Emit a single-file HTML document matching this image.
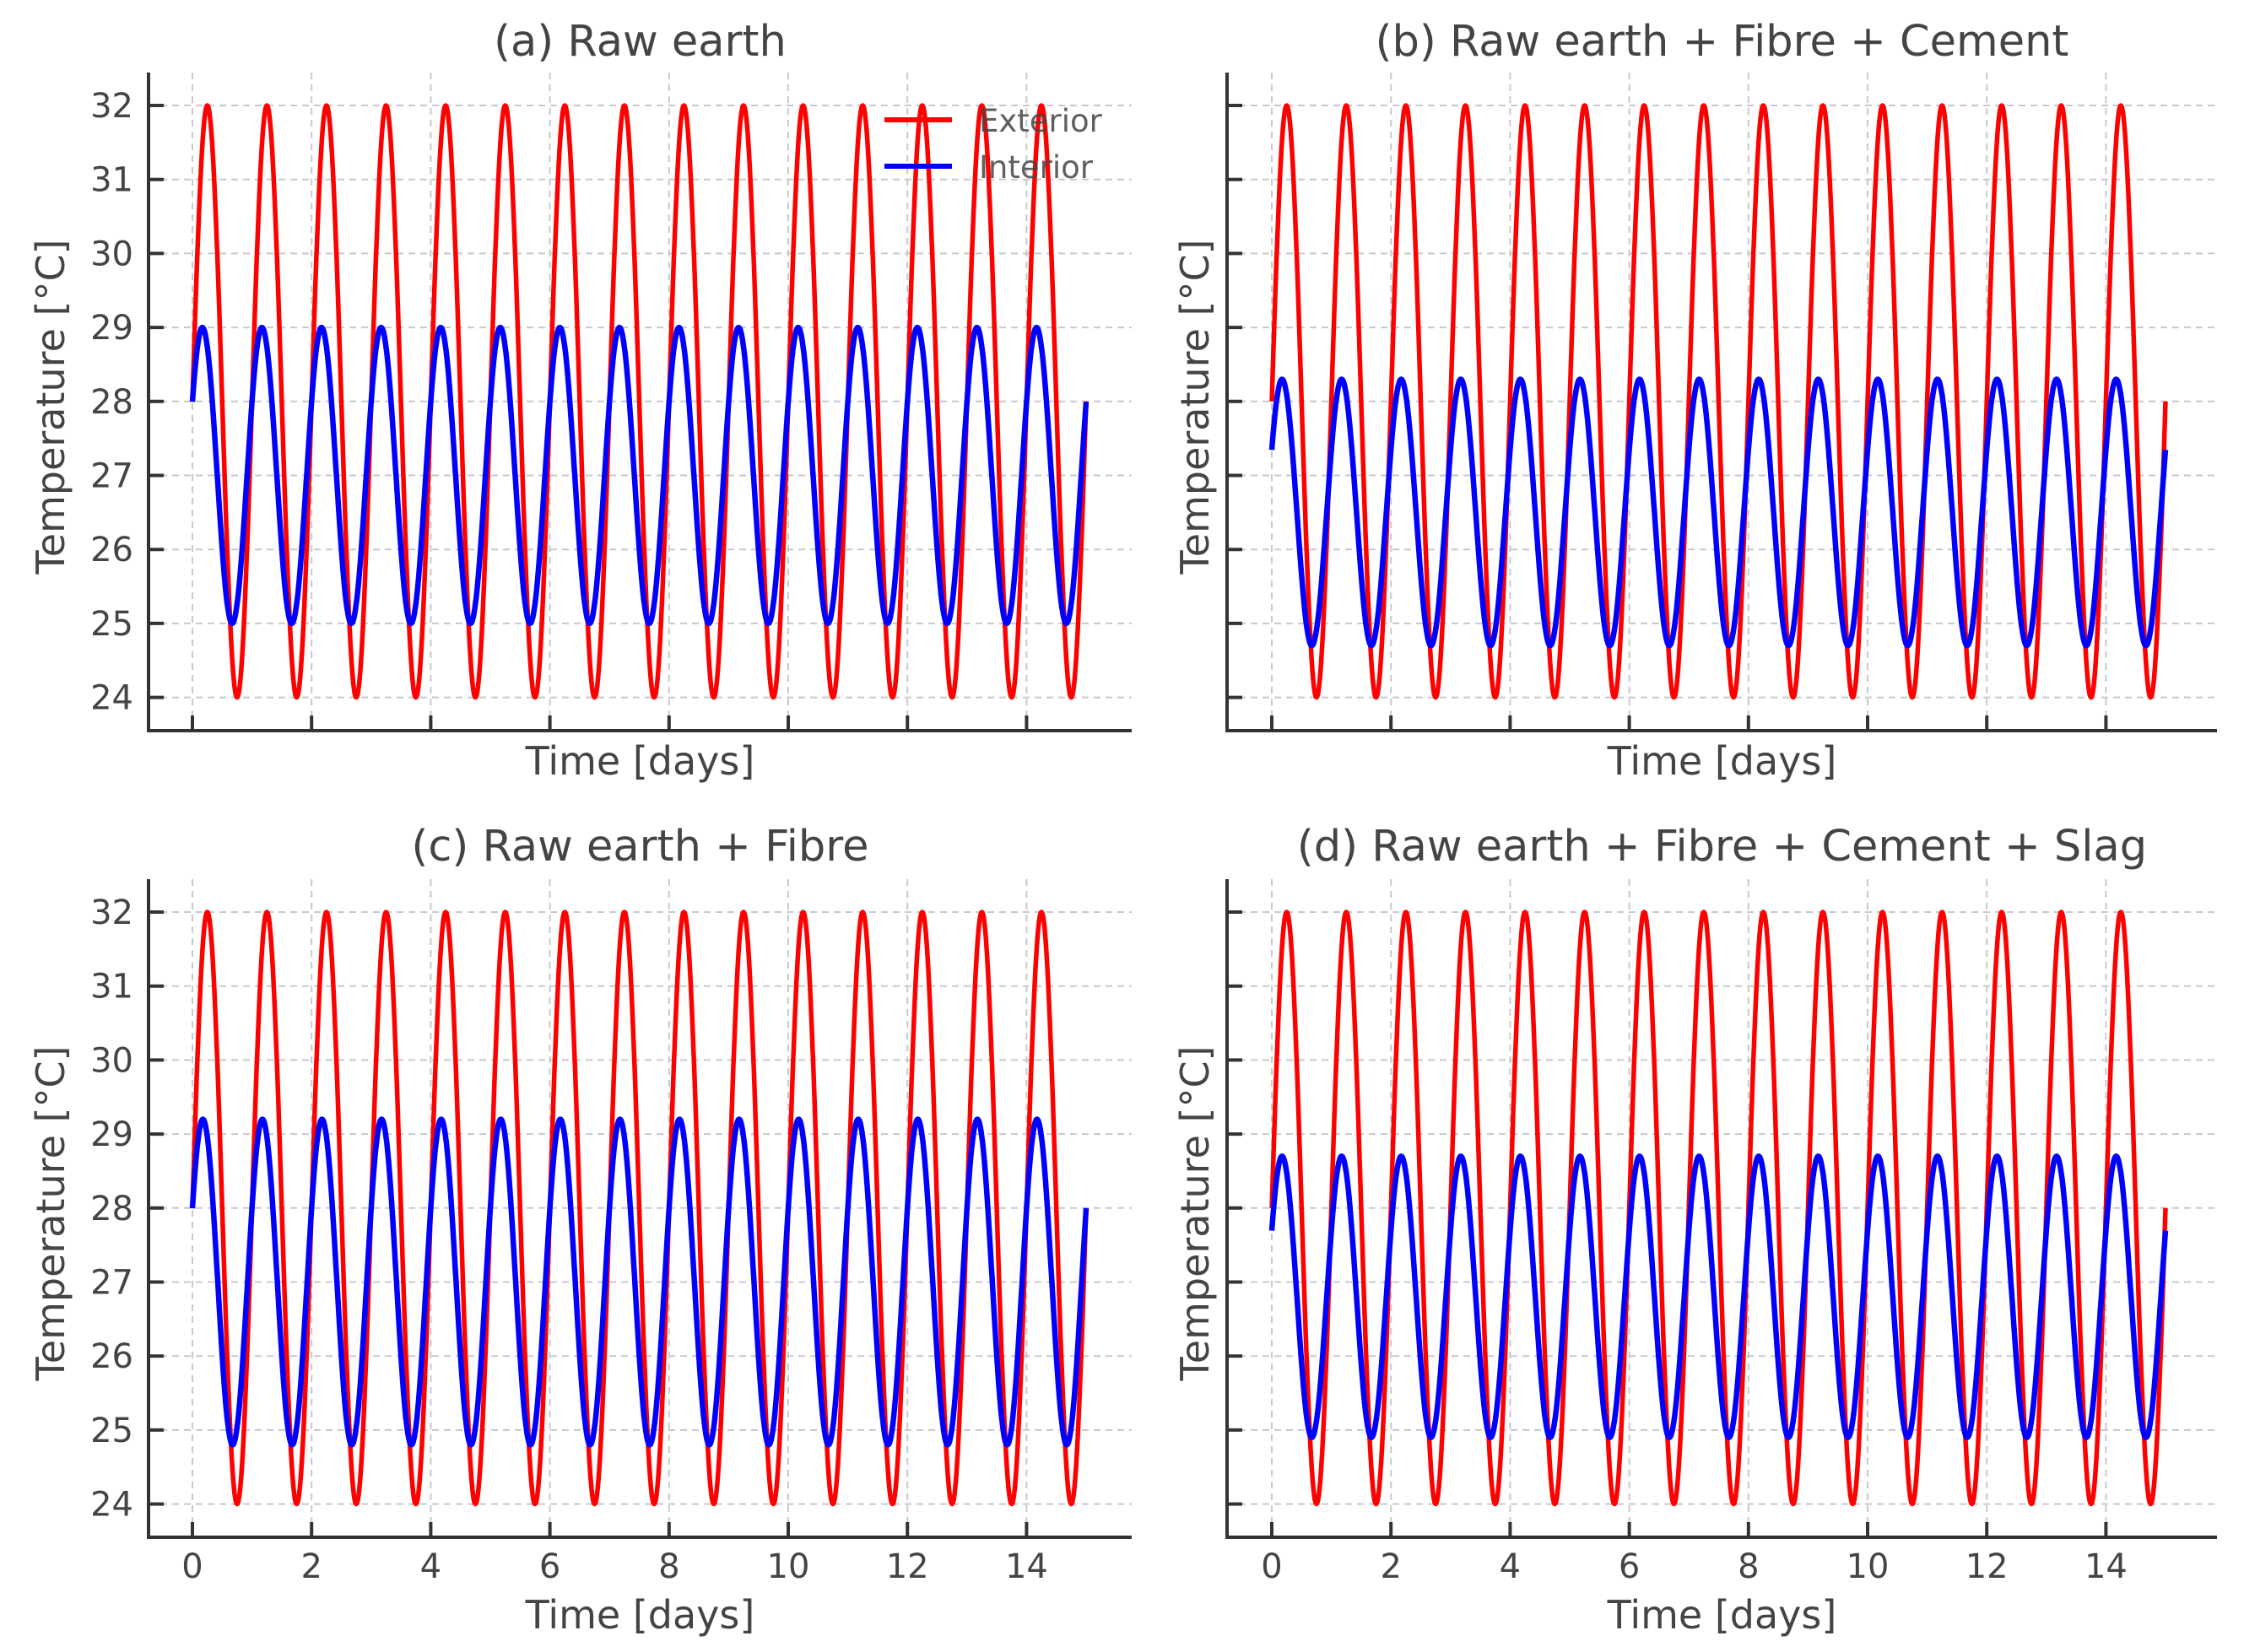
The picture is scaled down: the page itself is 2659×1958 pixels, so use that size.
<!DOCTYPE html>
<html><head><meta charset="utf-8"><style>
html,body{margin:0;padding:0;background:#fff;}
svg{display:block;font-family:"DejaVu Sans","Liberation Sans",sans-serif;}
</style></head><body>
<svg id="fig" width="2659" height="1958" viewBox="0 0 2659 1958" xmlns="http://www.w3.org/2000/svg"></svg>
<script>
// Data (sinusoid parameters) per panel a, b, c, d
const panelTitles = ["(a) Raw earth", "(b) Raw earth + Fibre + Cement", "(c) Raw earth + Fibre", "(d) Raw earth + Fibre + Cement + Slag"];
const exteriorMean = [28, 28, 28, 28];
const exteriorAmp = [4, 4, 4, 4];
const interiorMean = [27, 26.5, 27, 26.8];
const interiorAmp = [2, 1.8, 2.2, 1.9];
const interiorPhase = [0.52, 0.49, 0.47, 0.49];
const periodDays = [1, 1, 1, 1];
const dayRange = [0, 15];
const xTicks = [0, 2, 4, 6, 8, 10, 12, 14];
const yTicks = [24, 25, 26, 27, 28, 29, 30, 31, 32];

const NS = "http://www.w3.org/2000/svg";
const svg = document.getElementById("fig");
function mk(tag, attrs, parent) {
  const e = document.createElementNS(NS, tag);
  for (const k in attrs) e.setAttribute(k, attrs[k]);
  (parent || svg).appendChild(e);
  return e;
}
const layouts = [
  {spineX: 176, x0: 228, right: 1341, top: 86, bottom: 866, y32: 125, row: 0, col: 0},
  {spineX: 1454, x0: 1507, right: 2627, top: 86, bottom: 866, y32: 125, row: 0, col: 1},
  {spineX: 176, x0: 228, right: 1341, top: 1042, bottom: 1822, y32: 1081, row: 1, col: 0},
  {spineX: 1454, x0: 1507, right: 2627, top: 1042, bottom: 1822, y32: 1081, row: 1, col: 1}
];
const dayPx = 70.6, degPx = 87.7;
const txt = "#444";

layouts.forEach((L, i) => {
  const g = mk("g", {});
  
  
  const X = d => L.x0 + d * dayPx;
  const Y = v => L.y32 + (32 - v) * degPx;
  xTicks.forEach(t => {
    const l = mk("line", {x1: X(t), x2: X(t), y1: L.top, y2: L.bottom, stroke: "#c8c8d0", "stroke-width": 2, "stroke-dasharray": "8,6"}, g);
    
    
  });
  yTicks.forEach(t => {
    const l = mk("line", {x1: L.spineX, x2: L.right, y1: Y(t), y2: Y(t), stroke: "#c8c8d0", "stroke-width": 2, "stroke-dasharray": "8,6"}, g);
    
    
  });
  const n = 1500;
  let pe = "", pi = "";
  for (let k = 0; k <= n; k++) {
    const t = dayRange[0] + (dayRange[1] - dayRange[0]) * k / n;
    const w = 2 * Math.PI * t / periodDays[i];
    const ve = exteriorMean[i] + exteriorAmp[i] * Math.sin(w);
    const vi = interiorMean[i] + interiorAmp[i] * Math.sin(w + interiorPhase[i]);
    pe += (k ? "L" : "M") + X(t).toFixed(1) + "," + Y(ve).toFixed(1);
    pi += (k ? "L" : "M") + X(t).toFixed(1) + "," + Y(vi).toFixed(1);
  }
  const le = mk("path", {d: pe, fill: "none", stroke: "#ff0000", "stroke-width": 5.5, "stroke-linejoin": "round"}, g);
  
  
  const li = mk("path", {d: pi, fill: "none", stroke: "#0000ff", "stroke-width": 6.5, "stroke-linejoin": "round"}, g);
  
  
  const sl = mk("line", {x1: L.spineX, x2: L.spineX, y1: L.top, y2: L.bottom + 2, stroke: "#333", "stroke-width": 4}, g);
  
  
  const sb = mk("line", {x1: L.spineX - 2, x2: L.right, y1: L.bottom, y2: L.bottom, stroke: "#333", "stroke-width": 4}, g);
  
  
  yTicks.forEach(t => {
    const tk = mk("line", {x1: L.spineX, x2: L.spineX + 18, y1: Y(t), y2: Y(t), stroke: "#333", "stroke-width": 4}, g);
    
    
    if (L.col === 0) {
      const tl = mk("text", {x: L.spineX - 18, y: Y(t) + 14, "text-anchor": "end", "font-size": 40, fill: txt}, g);
      tl.textContent = t;
      
      
    }
  });
  xTicks.forEach(t => {
    const tk = mk("line", {x1: X(t), x2: X(t), y1: L.bottom, y2: L.bottom - 18, stroke: "#333", "stroke-width": 4}, g);
    
    
    if (L.row === 1) {
      const tl = mk("text", {x: X(t), y: L.bottom + 48, "text-anchor": "middle", "font-size": 40, fill: txt}, g);
      tl.textContent = t;
      
      
    }
  });
  const cx = (L.spineX + L.right) / 2;
  const ti = mk("text", {x: cx, y: L.row ? L.top - 22 : L.top - 20, "text-anchor": "middle", "font-size": 51, fill: txt}, g);
  ti.textContent = panelTitles[i];
  
  
  const xl = mk("text", {x: cx, y: L.row ? L.bottom + 108 : L.bottom + 52, "text-anchor": "middle", "font-size": 46, fill: txt}, g);
  xl.textContent = "Time [days]";
  
  
  const ym = (L.top + L.bottom) / 2 + 6;
  const yx = L.col === 0 ? 76 : 1432;
  const yl = mk("text", {x: yx, y: ym, "text-anchor": "middle", "font-size": 46, fill: txt, transform: "rotate(-90 " + yx + " " + ym + ")"}, g);
  yl.textContent = "Temperature [°C]";
  
  
});

const lg = mk("g", {});


const e1 = mk("line", {x1: 1048, x2: 1128, y1: 142, y2: 142, stroke: "#ff0000", "stroke-width": 6}, lg);


const t1 = mk("text", {x: 1160, y: 156, "font-size": 37, fill: txt, "fill-opacity": 0.85}, lg);
t1.textContent = "Exterior";


const e2 = mk("line", {x1: 1048, x2: 1128, y1: 197, y2: 197, stroke: "#0000ff", "stroke-width": 6}, lg);


const t2 = mk("text", {x: 1160, y: 211, "font-size": 37, fill: txt, "fill-opacity": 0.85}, lg);
t2.textContent = "Interior";


</script>
</body></html>
